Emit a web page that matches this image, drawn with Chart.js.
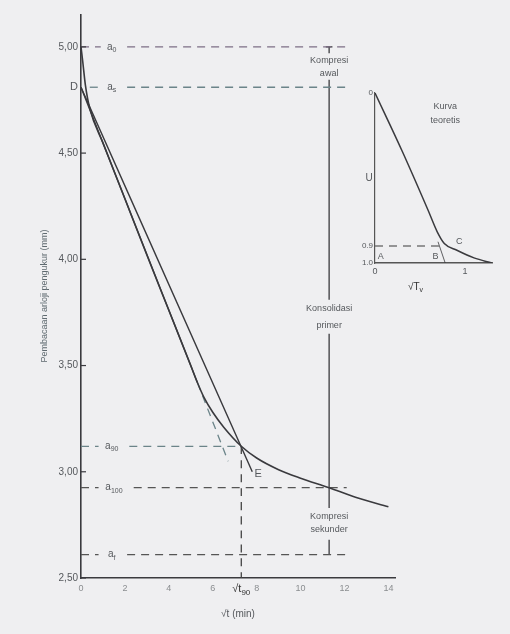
<!DOCTYPE html>
<html>
<head>
<meta charset="utf-8">
<script src="https://cdn.jsdelivr.net/npm/chart.js@4"></script>
<style>
  body { margin: 0; background: #efeff1; }
  #wrap { position: relative; width: 510px; height: 634px; }
  #mainChart { position: absolute; left: 0; top: 0; }
  #insetChart { position: absolute; left: 340px; top: 60px; }
</style>
</head>
<body>
<div id="wrap">
  <canvas id="mainChart" width="510" height="634"></canvas>
  <canvas id="insetChart" width="170" height="240"></canvas>
</div>
<script>
// main curve: dial reading vs sqrt(t)
const curveT = [0, 0.08, 0.2, 0.4, 1, 2, 3, 4, 5, 5.3, 5.6, 6.0, 6.5, 7.3, 8.0, 9.0, 10.0, 11.3, 12.5, 14.0];
const curveR = [5.0, 4.93, 4.82, 4.71, 4.548, 4.285, 4.02, 3.76, 3.50, 3.42, 3.35, 3.28, 3.21, 3.12, 3.065, 3.01, 2.97, 2.925, 2.88, 2.835];

// straight lines from D
const line1T = [0, 5.3];
const line1R = [4.81, 3.42];
const line1ExtT = [5.3, 6.7];
const line1ExtR = [3.42, 3.05];
const line2T = [0, 7.8];
const line2R = [4.81, 3.0];

// readings
const a0 = 5.00, aS = 4.81, a90 = 3.12, a100 = 2.925, aF = 2.61;
const sqrtT90 = 7.3, sqrtT100 = 11.3;

const xTicks = [0, 2, 4, 6, 8, 10, 12, 14];
const yTicks = [2.5, 3.0, 3.5, 4.0, 4.5, 5.0];

// inset: theoretical curve U vs sqrt(Tv)
const insetT = [0, 0.3, 0.59, 0.69, 0.77, 0.91, 1.1, 1.3];
const insetU = [0, 0.34, 0.69, 0.815, 0.885, 0.925, 0.97, 1.0];
const insetXTicks = [0, 1];
const insetYTicks = [0, 0.9, 1.0];

const dark = '#3a3a3e';
const dashCol = '#6b8489';
const textCol = '#55585c';
const font = "'Liberation Sans', Arial, sans-serif";

function pts(xs, ys) {
  return xs.map((x, i) => ({ x: x, y: ys[i] }));
}
function solid(xs, ys, w) {
  return { data: pts(xs, ys), borderColor: dark, borderWidth: w || 1.4, pointRadius: 0, showLine: true, tension: 0 };
}
function dashed(xs, ys, col) {
  return { data: pts(xs, ys), borderColor: col || dashCol, borderWidth: 1.3, borderDash: [8, 6], pointRadius: 0, showLine: true, tension: 0 };
}

function subText(ctx, x, y, main, sub, size, align) {
  ctx.font = size + 'px ' + font;
  const w1 = ctx.measureText(main).width;
  ctx.font = Math.round(size * 0.7) + 'px ' + font;
  const w2 = ctx.measureText(sub).width;
  let x0 = x;
  if (align === 'center') x0 = x - (w1 + w2) / 2;
  if (align === 'right') x0 = x - (w1 + w2);
  ctx.textAlign = 'left';
  ctx.textBaseline = 'middle';
  ctx.font = size + 'px ' + font;
  ctx.fillText(main, x0, y);
  ctx.font = Math.round(size * 0.7) + 'px ' + font;
  ctx.fillText(sub, x0 + w1, y + size * 0.3);
}

const mainLabels = {
  id: 'mainLabels',
  afterDatasetsDraw(chart) {
    const ctx = chart.ctx;
    const xs = chart.scales.x, ys = chart.scales.y;
    const px = v => xs.getPixelForValue(v);
    const py = v => ys.getPixelForValue(v);
    ctx.save();
    ctx.fillStyle = textCol;
    subText(ctx, px(1.4), py(a0), 'a', '0', 10, 'center');
    subText(ctx, px(1.4), py(aS), 'a', 's', 10, 'center');
    subText(ctx, px(1.4), py(a90), 'a', '90', 10, 'center');
    subText(ctx, px(1.5), py(a100), 'a', '100', 10, 'center');
    subText(ctx, px(1.4), py(aF), 'a', 'f', 10, 'center');

    ctx.font = '11px ' + font;
    ctx.textAlign = 'right';
    ctx.textBaseline = 'middle';
    ctx.fillText('D', px(0) - 3, py(aS));
    ctx.textAlign = 'left';
    ctx.fillText('E', px(7.9), py(2.99));

    ctx.font = '9px ' + font;
    ctx.textAlign = 'center';
    ctx.fillText('Kompresi', px(sqrtT100), py(4.934));
    ctx.fillText('awal', px(sqrtT100), py(4.873));
    ctx.fillText('Konsolidasi', px(sqrtT100), py(3.77));
    ctx.fillText('primer', px(sqrtT100), py(3.69));
    ctx.fillText('Kompresi', px(sqrtT100), py(2.79));
    ctx.fillText('sekunder', px(sqrtT100), py(2.73));

    // inward tick marks on y axis
    ctx.strokeStyle = dark;
    ctx.lineWidth = 1.2;
    yTicks.forEach(v => {
      ctx.beginPath();
      ctx.moveTo(px(0), py(v));
      ctx.lineTo(px(0) + 5, py(v));
      ctx.stroke();
    });

    // sqrt t90 under the axis
    ctx.fillStyle = '#333';
    ctx.font = 'bold 11px ' + font;
    subText(ctx, px(sqrtT90), 589, '\u221At', '90', 11, 'center');

    ctx.fillStyle = textCol;
    ctx.font = '10px ' + font;
    ctx.textAlign = 'center';
    ctx.fillText('\u221At (min)', (xs.left + xs.right) / 2, 614);

    ctx.save();
    ctx.translate(45, 296);
    ctx.rotate(-Math.PI / 2);
    ctx.font = '9px ' + font;
    ctx.fillStyle = '#5f6a70';
    ctx.fillText('Pembacaan arloji pengukur (mm)', 0, 0);
    ctx.restore();
    ctx.restore();
  }
};

new Chart(document.getElementById('mainChart'), {
  type: 'scatter',
  data: {
    datasets: [
      solid(curveT, curveR, 1.6),
      solid(line1T, line1R),
      dashed(line1ExtT, line1ExtR),
      solid(line2T, line2R),
      dashed([0, 0.9], [a0, a0], '#7d6f85'),
      dashed([2.1, 12.2], [a0, a0], '#7d6f85'),
      dashed([0.4, 0.9], [aS, aS]),
      dashed([2.1, 12.2], [aS, aS]),
      dashed([0, 0.8], [a90, a90]),
      dashed([2.2, sqrtT90], [a90, a90]),
      dashed([0, 0.8], [a100, a100], '#555'),
      dashed([2.4, 12.1], [a100, a100], '#555'),
      dashed([0, 0.8], [aF, aF], '#555'),
      dashed([2.1, 12.2], [aF, aF], '#555'),
      dashed([sqrtT90, sqrtT90], [a90, 2.5], '#444'),
      solid([sqrtT100, sqrtT100], [a0, 4.97], 1.3),
      solid([sqrtT100 - 0.15, sqrtT100 + 0.15], [a0, a0], 1.3),
      solid([sqrtT100, sqrtT100], [4.845, 3.81], 1.3),
      solid([sqrtT100, sqrtT100], [3.65, 2.83], 1.3),
      solid([sqrtT100, sqrtT100], [2.68, aF], 1.3)
    ]
  },
  options: {
    responsive: false,
    animation: false,
    layout: { padding: { left: 0, right: 115, top: 15, bottom: 0 } },
    plugins: { legend: { display: false }, tooltip: { enabled: false } },
    elements: { line: { cubicInterpolationMode: 'monotone' } },
    scales: {
      x: {
        type: 'linear',
        min: 0,
        max: 14.3,
        afterFit: s => { s.height = 56; },
        afterBuildTicks: s => { s.ticks = xTicks.map(v => ({ value: v })); },
        grid: { drawOnChartArea: false, drawTicks: false },
        border: { color: dark, width: 1.6 },
        ticks: { color: '#8a8d90', font: { family: font, size: 9 }, padding: 5 }
      },
      y: {
        type: 'linear',
        min: 2.5,
        max: 5.15,
        afterFit: s => { s.width = 81; },
        afterBuildTicks: s => { s.ticks = yTicks.map(v => ({ value: v })); },
        grid: { drawOnChartArea: false, drawTicks: false },
        border: { color: dark, width: 1.6 },
        ticks: {
          color: textCol,
          font: { family: font, size: 10 },
          padding: 3,
          callback: v => v.toFixed(2).replace('.', ',')
        }
      }
    }
  },
  plugins: [mainLabels]
});

const insetLabels = {
  id: 'insetLabels',
  afterDatasetsDraw(chart) {
    const ctx = chart.ctx;
    const xs = chart.scales.x, ys = chart.scales.y;
    const px = v => xs.getPixelForValue(v);
    const py = v => ys.getPixelForValue(v);
    ctx.save();
    ctx.fillStyle = textCol;
    ctx.textBaseline = 'middle';
    ctx.textAlign = 'center';
    ctx.font = '9px ' + font;
    ctx.fillText('Kurva', px(0.78), py(0.08));
    ctx.fillText('teoretis', px(0.78), py(0.16));
    ctx.font = '10px ' + font;
    ctx.fillText('U', px(0) - 6, py(0.5));
    ctx.font = '9px ' + font;
    ctx.textAlign = 'left';
    ctx.fillText('A', px(0.03), py(0.96));
    ctx.fillText('B', px(0.64), py(0.96));
    ctx.fillText('C', px(0.9), py(0.875));
    ctx.fillStyle = '#333';
    subText(ctx, px(0.45), py(1.0) + 24, '\u221AT', 'v', 10, 'center');
    ctx.restore();
  }
};

new Chart(document.getElementById('insetChart'), {
  type: 'scatter',
  data: {
    datasets: [
      solid(insetT, insetU, 1.5),
      dashed([0, 0.75], [0.9, 0.9], '#777'),
      solid([0.70, 0.78], [0.875, 1.0], 0.8)
    ]
  },
  options: {
    responsive: false,
    animation: false,
    layout: { padding: { left: 0, right: 18, top: 33, bottom: 0 } },
    plugins: { legend: { display: false }, tooltip: { enabled: false } },
    elements: { line: { cubicInterpolationMode: 'monotone' } },
    scales: {
      x: {
        type: 'linear',
        min: 0,
        max: 1.3,
        afterFit: s => { s.height = 37; },
        afterBuildTicks: s => { s.ticks = insetXTicks.map(v => ({ value: v })); },
        grid: { drawOnChartArea: false, drawTicks: false },
        border: { color: '#555', width: 1.4 },
        ticks: { color: textCol, font: { family: font, size: 9 }, padding: 3 }
      },
      y: {
        type: 'linear',
        min: 0,
        max: 1.0,
        reverse: true,
        afterFit: s => { s.width = 35; },
        afterBuildTicks: s => { s.ticks = insetYTicks.map(v => ({ value: v })); },
        grid: { drawOnChartArea: false, drawTicks: false },
        border: { color: '#555', width: 1.2 },
        ticks: {
          color: textCol,
          font: { family: font, size: 8 },
          padding: 2,
          callback: v => v === 0 ? '0' : v.toFixed(1)
        }
      }
    }
  },
  plugins: [insetLabels]
});
</script>
</body>
</html>
